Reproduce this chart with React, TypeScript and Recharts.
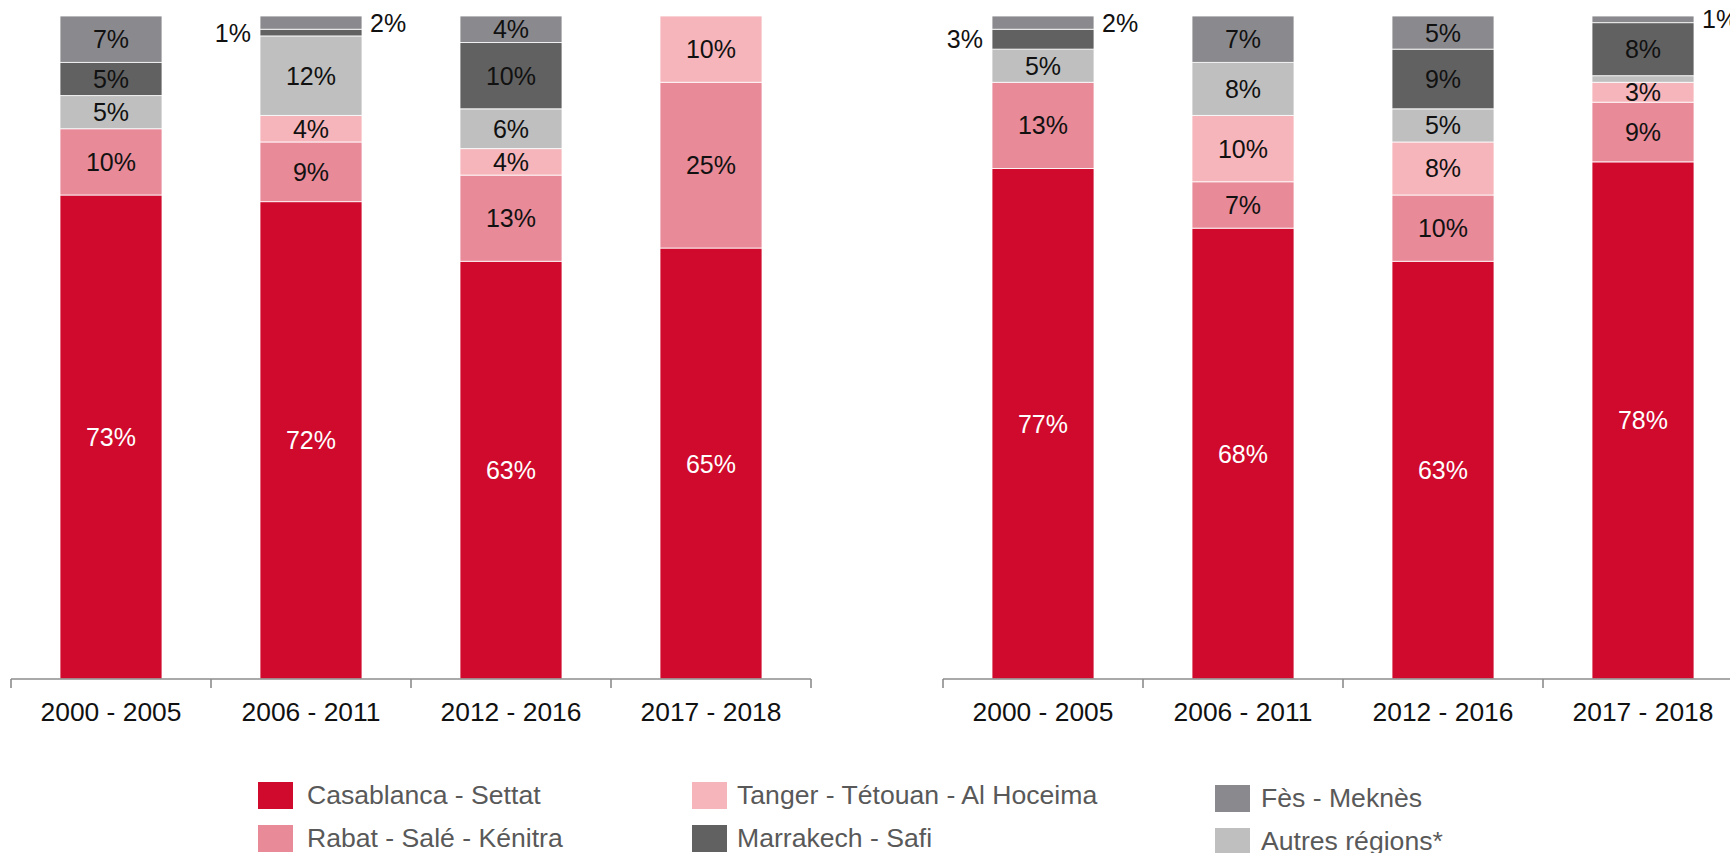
import { BarChart, Bar, XAxis, YAxis, LabelList } from 'recharts'

const categories = ['2000 - 2005', '2006 - 2011', '2012 - 2016', '2017 - 2018']

// left panel (% by region)
const casaL      = [73, 72, 63, 65]
const rabatL     = [10, 9, 13, 25]
const tangerL    = [0, 4, 4, 10]
const autresL    = [5, 12, 6, 0]
const marrakechL = [5, 1, 10, 0]
const fesL       = [7, 2, 4, 0]

// right panel
const casaR      = [77, 68, 63, 78]
const rabatR     = [13, 7, 10, 9]
const tangerR    = [0, 10, 8, 3]
const autresR    = [5, 8, 5, 1]
const marrakechR = [3, 0, 9, 8]
const fesR       = [2, 7, 5, 1]

type Mode = 'in' | 'left' | 'right' | 'none'

// where each value label sits (default: inside the segment)
const labelModeL: Record<string, Mode[]> = {
  marrakech: ['in', 'left', 'in', 'in'],
  fes:       ['in', 'right', 'in', 'in'],
}
const labelModeR: Record<string, Mode[]> = {
  autres:    ['in', 'in', 'in', 'none'],
  marrakech: ['left', 'in', 'in', 'in'],
  fes:       ['right', 'in', 'in', 'right'],
}

const series = [
  { key: 'casa',      name: 'Casablanca - Settat',           color: '#CF0A2C' },
  { key: 'rabat',     name: 'Rabat - Salé - Kénitra',        color: '#E88A98' },
  { key: 'tanger',    name: 'Tanger - Tétouan - Al Hoceima', color: '#F6B5BA' },
  { key: 'autres',    name: 'Autres régions*',               color: '#BFBFBF' },
  { key: 'marrakech', name: 'Marrakech - Safi',              color: '#616161' },
  { key: 'fes',       name: 'Fès - Meknès',                  color: '#8A8A8E' },
]

// legend order: column by column
const legendOrder = ['casa', 'rabat', 'tanger', 'marrakech', 'fes', 'autres']

const FONT = '"Liberation Sans", Arial, sans-serif'
const AXIS = '#8C8C8C'
const PLOT_W = 800
const CAT_W = PLOT_W / categories.length

function buildRows(vals: Record<string, number[]>) {
  return categories.map((c, i) => {
    const row: Record<string, string | number> = { cat: c }
    Object.keys(vals).forEach((k) => { row[k] = vals[k][i] })
    return row
  })
}

const leftData = buildRows({
  casa: casaL, rabat: rabatL, tanger: tangerL, autres: autresL, marrakech: marrakechL, fes: fesL,
})
const rightData = buildRows({
  casa: casaR, rabat: rabatR, tanger: tangerR, autres: autresR, marrakech: marrakechR, fes: fesR,
})

function AxisTick(props: any) {
  const { x, y, payload, index, visibleTicksCount } = props
  const half = CAT_W / 2
  const last = index === visibleTicksCount - 1
  return (
    <g>
      <line x1={x - half} x2={x - half} y1={y} y2={y + 9} stroke={AXIS} strokeWidth={1.6} />
      {last && <line x1={x + half} x2={x + half} y1={y} y2={y + 9} stroke={AXIS} strokeWidth={1.6} />}
      <text x={x} y={y + 42} textAnchor="middle" fontSize={26.4} fill="#111" fontFamily={FONT}>
        {payload.value}
      </text>
    </g>
  )
}

function makeLabel(modes: Mode[] | undefined, white: boolean) {
  return (props: any) => {
    const { x, y, width, height, value, index } = props
    if (!value) return null
    const mode = modes ? modes[index] : 'in'
    if (mode === 'none') return null
    const cy = Number(y) + Number(height) / 2
    let tx = Number(x) + Number(width) / 2
    let anchor: 'middle' | 'start' | 'end' = 'middle'
    if (mode === 'left') { tx = Number(x) - 9; anchor = 'end' }
    if (mode === 'right') { tx = Number(x) + Number(width) + 8; anchor = 'start' }
    return (
      <text x={tx} y={cy} dy="0.36em" textAnchor={anchor} fontSize={25}
        fill={white && mode === 'in' ? '#fff' : '#111'} fontFamily={FONT}>
        {`${value}%`}
      </text>
    )
  }
}

function Panel({ data, modes }: { data: any[]; modes: Record<string, Mode[]> }) {
  return (
    <BarChart width={PLOT_W + 20} height={760} data={data}
      margin={{ top: 16, right: 10, bottom: 0, left: 10 }} barSize={102}>
      <XAxis dataKey="cat" height={81} tickLine={false} tickSize={0} tickMargin={0}
        axisLine={{ stroke: AXIS, strokeWidth: 1.6 }} tick={<AxisTick />} interval={0} />
      <YAxis hide domain={[0, 100]} />
      {series.map((s) => (
        <Bar key={s.key} dataKey={s.key} stackId="a" fill={s.color} stroke="#fff" strokeWidth={0.8}
          isAnimationActive={false}>
          <LabelList dataKey={s.key} content={makeLabel(modes[s.key], s.key === 'casa')} />
        </Bar>
      ))}
    </BarChart>
  )
}

const legendCols = [
  { swatch: 258, text: 307, dy: 0 },
  { swatch: 692, text: 737, dy: 0 },
  { swatch: 1215, text: 1261, dy: 3 },
]
const legendRows = [795, 838]

export default function App() {
  return (
    <div style={{ position: 'absolute', left: 0, top: 0, width: 1730, height: 853,
      overflow: 'hidden', background: '#fff', fontFamily: FONT }}>
      <div style={{ position: 'absolute', left: 1, top: 0 }}>
        <Panel data={leftData} modes={labelModeL} />
      </div>
      <div style={{ position: 'absolute', left: 933, top: 0 }}>
        <Panel data={rightData} modes={labelModeR} />
      </div>
      {legendOrder.map((k, i) => {
        const s = series.find((d) => d.key === k)!
        const col = legendCols[Math.floor(i / 2)]
        const cy = legendRows[i % 2] + col.dy
        return (
          <div key={k}>
            <div style={{ position: 'absolute', left: col.swatch, top: cy - 13.5, width: 35, height: 27,
              background: s.color }} />
            <div style={{ position: 'absolute', left: col.text, top: cy - 16, height: 32, lineHeight: '32px',
              fontSize: 26.6, color: '#595959', whiteSpace: 'nowrap' }}>
              {s.name}
            </div>
          </div>
        )
      })}
    </div>
  )
}
